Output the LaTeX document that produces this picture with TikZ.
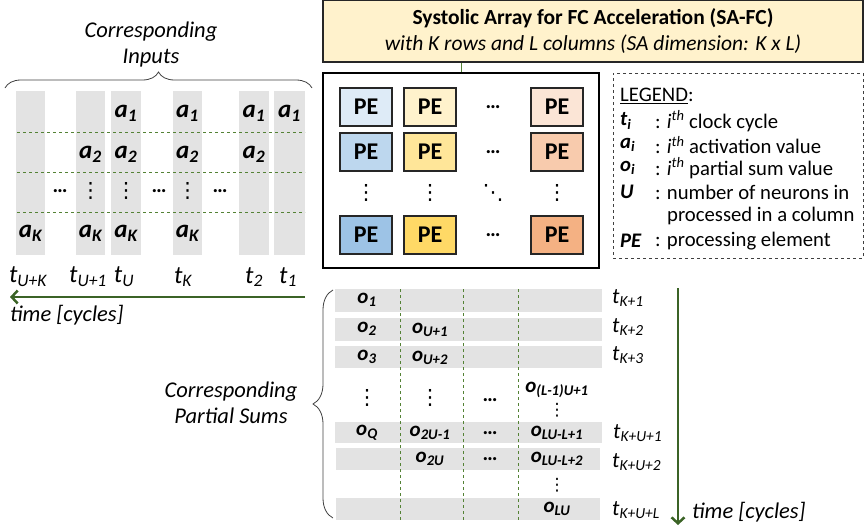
\documentclass[tikz,border=0pt]{standalone}
\usepackage{fontspec}
\setmainfont{Carlito}
\newfontfamily\symfont{DejaVu Sans}
\usepackage{xcolor}
\usepackage{tikz}
\usetikzlibrary{arrows.meta}
\usetikzlibrary{decorations.pathreplacing}
\definecolor{barGray}{HTML}{E3E3E3}
\definecolor{dashGreen}{HTML}{548235}
\definecolor{arrowGreen}{HTML}{3B6326}
\definecolor{titleFill}{HTML}{FFF2CC}
\definecolor{blueA}{HTML}{DEEBF7}
\definecolor{blueB}{HTML}{BDD7EE}
\definecolor{blueC}{HTML}{9DC3E6}
\definecolor{yelA}{HTML}{FFF2CC}
\definecolor{yelB}{HTML}{FFE699}
\definecolor{yelC}{HTML}{FFD966}
\definecolor{orA}{HTML}{FBE5D6}
\definecolor{orB}{HTML}{F8CBAD}
\definecolor{orC}{HTML}{F4B183}
\newcommand{\bv}[2]{\textbf{\textit{#1\textsubscript{#2}}}}
\newcommand{\tv}[1]{\textit{t\textsubscript{#1}}}
\newcommand{\vdts}{{\symfont ⋮}}
\newcommand{\ddts}{{\symfont ⋱}}
\newcommand{\hdts}{\textbf{\ldots}}
\tikzset{
    bar/.style={fill=barGray,draw=none},
    rowsep/.style={draw=dashGreen,dashed,line width=0.8pt},
    pebox/.style={draw=black!85,line width=1.5pt,minimum width=52pt,minimum height=38pt,inner sep=0pt,font=\fontsize{24}{24}\selectfont\bfseries},
    inval/.style={inner sep=0pt,font=\fontsize{25}{25}\selectfont},
    psval/.style={inner sep=0pt,font=\fontsize{21}{21}\selectfont},
    tlab/.style={inner sep=0pt,font=\fontsize{25}{25}\selectfont},
    tlabR/.style={anchor=west,inner sep=0pt,font=\fontsize{22}{22}\selectfont},
    lg/.style={anchor=west,inner sep=0pt,font=\fontsize{20.7}{20.7}\selectfont},
    note/.style={align=center,inner sep=0pt,font=\fontsize{22.5}{26}\selectfont\itshape},
    timearrow/.style={draw=arrowGreen,line width=2.5pt,-{Straight Barb[length=6pt,width=13pt]}},
    grpbrace/.style={draw=black!75,line width=0.8pt,decorate,decoration={brace,amplitude=#1}}
}

\begin{document}
\begin{tikzpicture}[x=1pt,y=-1pt]
        \useasboundingbox (0,0) rectangle (865,530);
        \node[draw=black!85,line width=1.2pt,fill=titleFill,minimum width=540pt,minimum height=62pt,align=center,inner sep=0pt,font=\fontsize{21.5}{26}\selectfont] (title) at (593,31)
            {\textbf{Systolic Array for FC Acceleration (SA-FC)}\\ \textit{with K rows and L columns (SA dimension: K x L)}};
        \node[draw=black,line width=2.5pt,minimum width=276pt,minimum height=195pt,inner sep=0pt] (arr) at (461,170.5) {};
        \draw[draw=dashGreen,line width=1pt] (title.south -| arr.north) -- (arr.north);
        \node[pebox,fill=blueA] (pe11) at (366,107) {PE};
        \node[pebox,fill=yelA] (pe12) at (430,107) {PE};
        \node[pebox,fill=orA] (pe14) at (557,107) {PE};
        \node[pebox,fill=blueB] (pe21) at (366,152) {PE};
        \node[pebox,fill=yelB] (pe22) at (430,152) {PE};
        \node[pebox,fill=orB] (pe24) at (557,152) {PE};
        \node[pebox,fill=blueC] (pe41) at (366,235) {PE};
        \node[pebox,fill=yelC] (pe42) at (430,235) {PE};
        \node[pebox,fill=orC] (pe44) at (557,235) {PE};
        \node[psval] (pe13) at (493,107) {\hdts};
        \node[psval] (pe23) at (493,152) {\hdts};
        \node[psval] (pe43) at (493,235) {\hdts};
        \node[psval] (pe31) at (366,193) {\vdts};
        \node[psval] (pe32) at (430,193) {\vdts};
        \node[psval] (pe33) at (493,193) {\ddts};
        \node[psval] (pe34) at (557,193) {\vdts};

        \node[draw=black!75,dashed,line width=0.8pt,minimum width=250pt,minimum height=185pt,inner sep=0pt] (legend) at (738,165.5) {};
        \node[lg] (lgHead) at (620,96) {\underline{LEGEND}:};
        \node[lg] (lgT) at (620,121) {\bv{t}{i}};
        \node[lg] (lgTd) at (655,121) {: \textit{i}\textsuperscript{\textit{th}} clock cycle};
        \node[lg] (lgA) at (620,145) {\bv{a}{i}};
        \node[lg] (lgAd) at (655,145) {: \textit{i}\textsuperscript{\textit{th}} activation value};
        \node[lg] (lgO) at (620,168) {\bv{o}{i}};
        \node[lg] (lgOd) at (655,168) {: \textit{i}\textsuperscript{\textit{th}} partial sum value};
        \node[lg] (lgU) at (620,192) {\textbf{\textit{U}}};
        \node[lg] (lgUd) at (655,192) {: number of neurons in};
        \node[lg] (lgUd2) at (667,216) {processed in a column};
        \node[lg] (lgPE) at (620,241) {\textbf{\textit{PE}}};
        \node[lg] (lgPEd) at (655,241) {: processing element};

        \node[note] (inNote) at (151,45) {Corresponding\\Inputs};
        \coordinate (inBraceL) at (5,88);
        \coordinate (inBraceR) at (312,88);
        \draw[grpbrace=16pt] (inBraceL) -- (inBraceR);
        \fill[bar] (16,91) rectangle (45,255);
        \fill[bar] (76,91) rectangle (105,255);
        \fill[bar] (111,91) rectangle (141,255);
        \fill[bar] (173,91) rectangle (202,255);
        \fill[bar] (239,91) rectangle (269,255);
        \fill[bar] (274,91) rectangle (305,255);
        \draw[rowsep] (17,132) -- (305,132);
        \draw[rowsep] (17,172) -- (305,172);
        \draw[rowsep] (17,212) -- (305,212);
        \node[inval] (a1c3) at (126,113) {\bv{a}{1}};
        \node[inval] (a1c4) at (187.5,113) {\bv{a}{1}};
        \node[inval] (a1c5) at (254,113) {\bv{a}{1}};
        \node[inval] (a1c6) at (289.5,113) {\bv{a}{1}};
        \node[inval] (a2c2) at (90.5,154) {\bv{a}{2}};
        \node[inval] (a2c3) at (126,154) {\bv{a}{2}};
        \node[inval] (a2c4) at (187.5,154) {\bv{a}{2}};
        \node[inval] (a2c5) at (254,154) {\bv{a}{2}};
        \node[psval] (dd1) at (60,191) {\hdts};
        \node[psval] (dv2) at (90.5,191) {\vdts};
        \node[psval] (dv3) at (126,191) {\vdts};
        \node[psval] (dd3) at (159,191) {\hdts};
        \node[psval] (dv4) at (187.5,191) {\vdts};
        \node[psval] (dd4) at (220,191) {\hdts};
        \node[inval] (aKc1) at (30.5,233) {\bv{a}{K}};
        \node[inval] (aKc2) at (90.5,233) {\bv{a}{K}};
        \node[inval] (aKc3) at (126,233) {\bv{a}{K}};
        \node[inval] (aKc4) at (187.5,233) {\bv{a}{K}};
        \node[tlab] (tUK) at (28,277) {\tv{U+K}};
        \node[tlab] (tU1) at (88,277) {\tv{U+1}};
        \node[tlab] (tU) at (124,277) {\tv{U}};
        \node[tlab] (tK) at (183,277) {\tv{K}};
        \node[tlab] (t2) at (254,277) {\tv{2}};
        \node[tlab] (t1) at (288,277) {\tv{1}};
        \coordinate (inStart) at (305,297);
        \coordinate (inEnd) at (10,297);
        \draw[timearrow] (inStart) -- (inEnd);
        \node[note,anchor=west] (inTime) at (10,315) {time [cycles]};

        \node[note] (psNote) at (231,403) {Corresponding\\Partial Sums};
        \coordinate (psBraceB) at (333,518);
        \coordinate (psBraceT) at (333,290);
        \draw[grpbrace=20pt] (psBraceB) -- (psBraceT);
        \fill[bar] (335,289) rectangle (602,312);
        \fill[bar] (335,318) rectangle (602,341);
        \fill[bar] (335,346) rectangle (602,368);
        \fill[bar] (335,422) rectangle (602,443);
        \fill[bar] (336,448) rectangle (600,470);
        \fill[bar] (336,498) rectangle (600,520);
        \draw[rowsep] (400,289) -- (400,520);
        \draw[rowsep] (463,289) -- (463,520);
        \draw[rowsep] (518,289) -- (518,520);
        \node[psval] (o1) at (367,300) {\bv{o}{1}};
        \node[psval] (o2) at (367,329) {\bv{o}{2}};
        \node[psval] (o3) at (367,357) {\bv{o}{3}};
        \node[psval] (oV1) at (367,398) {\vdts};
        \node[psval] (oQ) at (367,433) {\bv{o}{Q}};
        \node[psval] (oU1) at (430,330) {\bv{o}{U+1}};
        \node[psval] (oU2) at (430,358) {\bv{o}{U+2}};
        \node[psval] (oV2) at (430,398) {\vdts};
        \node[psval] (o2U1) at (430,433) {\bv{o}{2U-1}};
        \node[psval] (o2U) at (430,459) {\bv{o}{2U}};
        \node[psval] (oH3) at (490,400) {\hdts};
        \node[psval] (oH4) at (490,433) {\hdts};
        \node[psval] (oH5) at (490,459) {\hdts};
        \node[psval] (oL1) at (557,390) {\bv{o}{(L-1)U+1}};
        \node[psval,font=\fontsize{17}{17}\selectfont] (oV4) at (557,410) {\vdts};
        \node[psval] (oLL1) at (557,433) {\bv{o}{LU-L+1}};
        \node[psval] (oLL2) at (557,459) {\bv{o}{LU-L+2}};
        \node[psval,font=\fontsize{17}{17}\selectfont] (oV5) at (557,485) {\vdts};
        \node[psval] (oLU) at (557,509) {\bv{o}{LU}};
        \node[tlabR] (tK1) at (612,298) {\tv{K+1}};
        \node[tlabR] (tK2) at (612,327) {\tv{K+2}};
        \node[tlabR] (tK3) at (612,355) {\tv{K+3}};
        \node[tlabR] (tKU1) at (613,433) {\tv{K+U+1}};
        \node[tlabR] (tKU2) at (612,462) {\tv{K+U+2}};
        \node[tlabR] (tKUL) at (612,510) {\tv{K+U+L}};
        \coordinate (psStart) at (678,288);
        \coordinate (psEnd) at (678,525);
        \draw[timearrow] (psStart) -- (psEnd);
        \node[note,anchor=west] (psTime) at (692,512) {time [cycles]};
    \end{tikzpicture}
\end{document}
